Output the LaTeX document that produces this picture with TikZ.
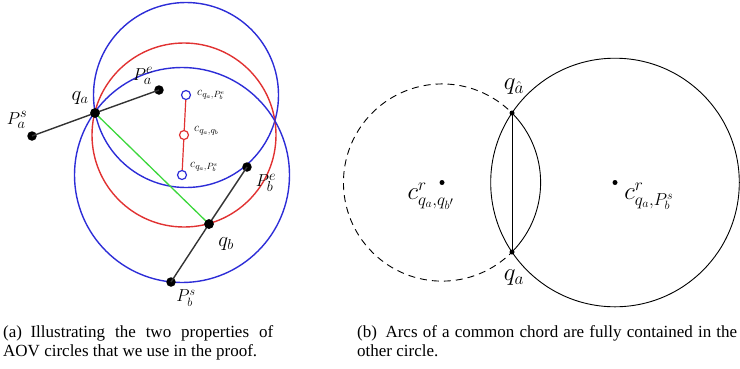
\documentclass[tikz,border=0pt]{standalone}
\usepackage{fontspec}
\setmainfont{Liberation Serif}
\begin{document}
\begin{tikzpicture}[x=1pt,y=-1pt,
  bluec/.style={draw=cblue,line width=1.4pt},
  redc/.style={draw=cred,line width=1.4pt},
  seg/.style={draw=black!80,line width=1.4pt},
  bigdot/.style={circle,fill=black,inner sep=0pt,minimum size=9.5pt},
  smalldot/.style={circle,fill=black,inner sep=0pt,minimum size=5pt},
  cmark/.style={circle,inner sep=0pt,minimum size=9pt,line width=1.2pt},
  lbl/.style={inner sep=0pt},
  captext/.style={inner sep=0pt,anchor=base west,font=\fontsize{17}{18}\selectfont},
  thin/.style={line width=0.9pt}]
\definecolor{cblue}{RGB}{45,45,215}
\definecolor{cred}{RGB}{225,50,50}
\definecolor{cgreen}{RGB}{60,215,60}
\useasboundingbox (0,0) rectangle (740,368);
% ---------- (a) ----------
\coordinate (Cu) at (186,95);
\coordinate (Cm) at (184,135);
\coordinate (Cl) at (182,175);
\draw[bluec] (Cu) circle[radius=92.5];
\draw[redc] (Cm) circle[radius=92];
\draw[bluec] (Cl) circle[radius=107.5];
\node[bigdot] (qa) at (95,113) {};
\node[bigdot] (pas) at (32,136) {};
\node[bigdot] (pae) at (159,90) {};
\node[bigdot] (qb) at (209,224) {};
\node[bigdot] (pbe) at (247,167) {};
\node[bigdot] (pbs) at (171,282) {};
\draw[draw=cgreen,line width=1.3pt] (qa.center) -- (qb.center);
\draw[seg] (pas.center) -- (qa.center) -- (pae.center);
\draw[seg] (pbe.center) -- (qb.center) -- (pbs.center);
\node[bigdot] at (qa) {};
\node[bigdot] at (qb) {};
\node[cmark,draw=cblue] (cu) at (Cu) {};
\node[cmark,draw=cred] (cm) at (Cm) {};
\node[cmark,draw=cblue] (cl) at (Cl) {};
\draw[draw=cred,line width=1.2pt] (cu) -- (cm) -- (cl);
\node[lbl,font=\fontsize{21}{24}\selectfont] at (80,98) {$q_a$};
\node[lbl,font=\fontsize{19}{22}\selectfont] at (17,120) {$P_a^s$};
\node[lbl,font=\fontsize{19}{22}\selectfont] at (143,76) {$P_a^e$};
\node[lbl,font=\fontsize{19}{22}\selectfont] at (266,183) {$P_b^e$};
\node[lbl,font=\fontsize{21}{24}\selectfont] at (226,244) {$q_b$};
\node[lbl,font=\fontsize{17}{20}\selectfont] at (186,298) {$P_b^s$};
\node[lbl,anchor=west,font=\fontsize{13}{15}\selectfont] at (197,95) {$c_{q_a,P_b^e}$};
\node[lbl,anchor=west,font=\fontsize{13}{15}\selectfont] at (194,131) {$c_{q_a,q_b}$};
\node[lbl,anchor=west,font=\fontsize{13}{15}\selectfont] at (190,167) {$c_{q_a,P_b^s}$};
% ---------- (b) ----------
\coordinate (D) at (442,182.5);
\coordinate (B) at (615,182.5);
\coordinate (qh) at (512,113);
\coordinate (qa2) at (512,252);
\draw[thin] (B) circle[radius=124.3];
\draw[thin] (qh) arc[start angle=-44.8,end angle=44.8,radius=98.6];
\draw[thin,dash pattern=on 7pt off 5pt,dash phase=3pt] (qa2) arc[start angle=44.8,end angle=315.2,radius=98.6];
\draw[thin] (qh) -- (qa2);
\node[smalldot] (qhd) at (qh) {};
\node[smalldot] (qad) at (qa2) {};
\node[smalldot] (Dd) at (D) {};
\node[smalldot] (Bd) at (B) {};
\node[lbl,font=\fontsize{25}{28}\selectfont] at (514,87) {$q_{\hat a}$};
\node[lbl,font=\fontsize{25}{28}\selectfont] at (514,278) {$q_a$};
\node[lbl,font=\fontsize{25}{28}\selectfont] at (431,196) {$c^r_{q_a,q_{b'}}$};
\node[lbl,font=\fontsize{25}{28}\selectfont] at (649,196) {$c^r_{q_a,P_b^s}$};
% ---------- captions ----------
\node[captext] (capa1) at (3,337) {\makebox[270pt][s]{(a)\enspace Illustrating the two properties of}};
\node[captext] (capa2) at (3,356) {AOV circles that we use in the proof.};
\node[captext] (capb1) at (357,337) {\makebox[380pt][s]{(b)\enspace Arcs of a common chord are fully contained in the}};
\node[captext] (capb2) at (357,356) {other circle.};
\end{tikzpicture}
\end{document}
